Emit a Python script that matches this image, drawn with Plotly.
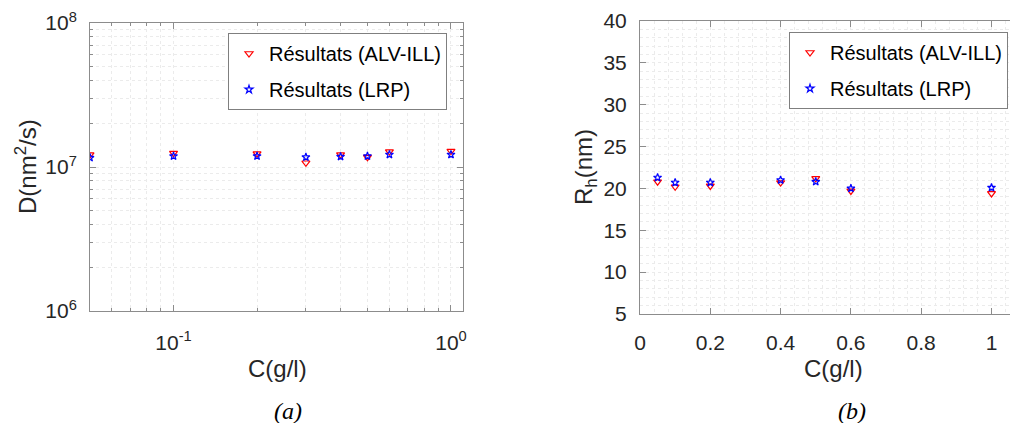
import numpy as np
import plotly.graph_objects as go

# ---------------- data ----------------
c_a = [0.05, 0.1, 0.2, 0.3, 0.4, 0.5, 0.6, 1.0]
d_alv = [1.22e7, 1.25e7, 1.24e7, 1.07e7, 1.22e7, 1.17e7, 1.28e7, 1.29e7]
d_lrp = [1.16e7, 1.19e7, 1.19e7, 1.17e7, 1.18e7, 1.19e7, 1.22e7, 1.22e7]

c_b = [0.05, 0.1, 0.2, 0.4, 0.5, 0.6, 1.0]
rh_alv = [20.8, 20.2, 20.3, 20.7, 21.2, 19.7, 19.4]
rh_lrp = [21.3, 20.7, 20.7, 21.0, 20.8, 20.0, 20.1]

name_alv = "Résultats (ALV-ILL)"
name_lrp = "Résultats (LRP)"

OFF = 8  # page body margin
W, H = 1018 - OFF, 423 - OFF
FONT = "Liberation Sans"
TXT = "#262626"
AXC = "#8c8c8c"
GRID = "#ebebeb"

fig = go.Figure()

tri = dict(symbol="triangle-down-open", size=7, color="#ff0000", line=dict(width=1.2))
star = dict(symbol="star-open", size=6, color="#0000ff", line=dict(width=1.2))

fig.add_trace(go.Scatter(x=c_a, y=d_alv, mode="markers", marker=tri, name=name_alv,
                         xaxis="x", yaxis="y", legend="legend", legendgroup="a1"))
fig.add_trace(go.Scatter(x=c_a, y=d_lrp, mode="markers", marker=star, name=name_lrp,
                         xaxis="x", yaxis="y", legend="legend", legendgroup="a2"))
fig.add_trace(go.Scatter(x=c_b, y=rh_alv, mode="markers", marker=tri, name=name_alv,
                         xaxis="x2", yaxis="y2", legend="legend2", legendgroup="b1"))
fig.add_trace(go.Scatter(x=c_b, y=rh_lrp, mode="markers", marker=star, name=name_lrp,
                         xaxis="x2", yaxis="y2", legend="legend2", legendgroup="b2"))

def px(x):
    return (x - OFF) / W

def py(y):
    return 1 - (y - OFF) / H

common = dict(showline=True, linecolor=AXC, linewidth=1, ticks="inside",
              tickcolor=AXC, ticklen=6, showgrid=True, gridcolor=GRID,
              griddash="dot", gridwidth=1, zeroline=False, automargin=False,
              tickfont=dict(family=FONT, size=21, color=TXT))

minor_x_log = [0.06, 0.07, 0.08, 0.09, 0.2, 0.3, 0.4, 0.5, 0.6, 0.7, 0.8, 0.9]
minor_y_log = [k * 1e6 for k in range(2, 10)] + [k * 1e7 for k in range(2, 10)]

fig.update_layout(
    width=W, height=H,
    margin=dict(l=0, r=0, t=0, b=0, autoexpand=False),
    paper_bgcolor="white", plot_bgcolor="white",
    showlegend=True,
    xaxis=dict(domain=[px(90), px(463)], type="log",
               range=[np.log10(0.05), np.log10(1.105)],
               tickvals=[0.1, 1], ticktext=["10<sup>-1</sup>", "10<sup>0</sup>"],
               mirror="ticks", ticklabelstandoff=13,
               minor=dict(tickvals=minor_x_log, ticks="inside", ticklen=3,
                          tickcolor=AXC, showgrid=True, gridcolor=GRID, griddash="dot"),
               anchor="y", **common),
    yaxis=dict(domain=[py(311), py(23)], type="log", range=[6, 8],
               tickvals=[1e6, 1e7, 1e8],
               ticktext=["10<sup>6</sup>", "10<sup>7</sup>", "10<sup>8</sup>"],
               mirror="ticks", ticklabelstandoff=8,
               minor=dict(tickvals=minor_y_log, ticks="inside", ticklen=3,
                          tickcolor=AXC, showgrid=True, gridcolor=GRID, griddash="dot"),
               anchor="x", **common),
    xaxis2=dict(domain=[px(640), 1.0], range=[0, (1018 - 640) / 351.5],
                tickvals=[0, 0.2, 0.4, 0.6, 0.8, 1.0],
                ticktext=["0", "0.2", "0.4", "0.6", "0.8", "1"],
                mirror="ticks", ticklabelstandoff=10,
                minor=dict(dtick=0.04, tick0=0, ticks="", showgrid=True,
                           gridcolor=GRID, griddash="dot"),
                anchor="y2", **common),
    yaxis2=dict(domain=[py(314), py(21)], range=[5, 40], dtick=5,
                mirror=False, ticklabelstandoff=8,
                minor=dict(dtick=1, tick0=0, ticks="", showgrid=True,
                           gridcolor=GRID, griddash="dot"),
                anchor="x2", **common),
    legend=dict(x=px(228), y=py(33), xanchor="left", yanchor="top",
                bordercolor="#7f7f7f", borderwidth=1, bgcolor="white",
                font=dict(family=FONT, size=20, color="#000000"),
                traceorder="grouped", tracegroupgap=7),
    legend2=dict(x=px(789), y=py(32), xanchor="left", yanchor="top",
                 bordercolor="#7f7f7f", borderwidth=1, bgcolor="white",
                 font=dict(family=FONT, size=20, color="#000000"),
                 traceorder="grouped", tracegroupgap=7),
)

ann_font = dict(family=FONT, size=24, color=TXT)
cap_font = dict(family="Liberation Serif", size=24, color="#000000")
annotations = [
    dict(text="C(g/l)", x=px(277), y=py(368), xref="paper", yref="paper",
         showarrow=False, font=ann_font, xanchor="center", yanchor="middle"),
    dict(text="C(g/l)", x=px(833), y=py(368), xref="paper", yref="paper",
         showarrow=False, font=ann_font, xanchor="center", yanchor="middle"),
    dict(text="D(nm<sup>2</sup>/s)", x=px(26), y=py(167), xref="paper", yref="paper",
         showarrow=False, font=ann_font, textangle=-90, xanchor="center", yanchor="middle"),
    dict(text="R<sub>h</sub>(nm)", x=px(585), y=py(167), xref="paper", yref="paper",
         showarrow=False, font=ann_font, textangle=-90, xanchor="center", yanchor="middle"),
    dict(text="<i>(a)</i>", x=px(288), y=py(411), xref="paper", yref="paper",
         showarrow=False, font=cap_font, xanchor="center", yanchor="middle"),
    dict(text="<i>(b)</i>", x=px(852), y=py(411), xref="paper", yref="paper",
         showarrow=False, font=cap_font, xanchor="center", yanchor="middle"),
]
fig.update_layout(annotations=annotations)

fig.write_html("out.html")
